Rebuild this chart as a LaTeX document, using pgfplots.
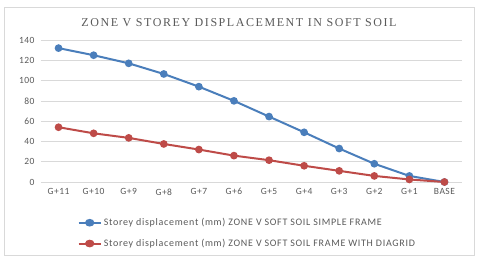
\documentclass[border=0pt]{standalone}
\usepackage{fontspec}
\setmainfont{Carlito}
\newfontfamily\titlefont[LetterSpace=13]{Liberation Serif}
\newfontfamily\tickfont[LetterSpace=5]{Carlito}
\newfontfamily\legfont[LetterSpace=7]{Carlito}
\usepackage{pgfplots}
\pgfplotsset{compat=1.18}

\definecolor{sblue}{HTML}{4A7EBB}
\definecolor{sred}{HTML}{BE4B48}
\definecolor{gridgrey}{HTML}{D9D9D9}
\definecolor{txtgrey}{HTML}{595959}

\begin{document}
\begin{tikzpicture}
\begin{axis}[
  scale only axis,
  width=421pt, height=142pt,
  xmin=-0.5, xmax=11.5,
  ymin=0, ymax=140,
  ytick={0,20,...,140},
  xtick={0,...,11},
  xticklabels={G+11,G+10,G+9,G+8,G+7,G+6,G+5,G+4,G+3,G+2,G+1,BASE},
  ymajorgrids,
  grid style={gridgrey, line width=0.6pt},
  axis line style={draw=none},
  x axis line style={draw=gridgrey},
  tick style={draw=none},
  axis x line*=bottom,
  axis y line*=left,
  ticklabel style={font=\tickfont\fontsize{9.5}{10}\selectfont, text=txtgrey},
  /pgf/number format/assume math mode=true,
  xticklabel style={yshift=-3pt},
  yticklabel style={xshift=-3pt},
  legend style={
    at={(0.49,-0.36)}, anchor=center,
    draw=none, fill=none,
    font=\legfont\fontsize{10}{11}\selectfont, text=txtgrey,
    row sep=8pt,
    /tikz/every even column/.append style={column sep=1pt},
  },
  legend cell align=left,
  legend image post style={xscale=1.3},
]
\coordinate (o) at (rel axis cs:0,0);
\addplot[sblue, line width=2pt, mark=*, mark size=2.8pt] coordinates {
  (0,132) (1,125) (2,117) (3,106.5) (4,94) (5,80) (6,64.5) (7,49) (8,33) (9,18) (10,6) (11,0)
};
\addlegendentry{Storey displacement (mm) ZONE V SOFT SOIL  SIMPLE FRAME}
\addplot[sred, line width=2pt, mark=*, mark size=2.8pt] coordinates {
  (0,54) (1,48) (2,43.5) (3,37.5) (4,32) (5,26) (6,21.5) (7,16) (8,11) (9,6) (10,2.5) (11,0)
};
\addlegendentry{Storey displacement (mm) ZONE V SOFT SOIL  FRAME  WITH DIAGRID}
\end{axis}
% chart frame and title
\draw[gridgrey, line width=0.7pt] ([shift={(-37pt,-73pt)}]o) rectangle ([shift={(433pt,175pt)}]o);
\node[font=\titlefont\fontsize{12}{14}\selectfont, text=txtgrey] at ([shift={(198pt,159pt)}]o) {ZONE V STOREY DISPLACEMENT IN SOFT SOIL};
\useasboundingbox ([shift={(-41pt,-78pt)}]o) rectangle ([shift={(438pt,182pt)}]o);
\end{tikzpicture}
\end{document}
